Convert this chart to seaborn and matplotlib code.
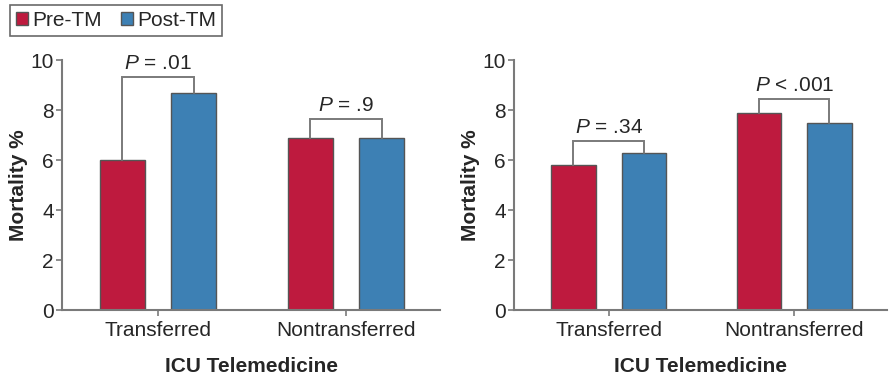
import matplotlib
matplotlib.use("Agg")
import matplotlib.pyplot as plt
import seaborn as sns
import pandas as pd

categories = ["Transferred", "Nontransferred"]
groups = ["Pre-TM", "Post-TM"]
left_pre = [6.0, 6.87]
left_post = [8.7, 6.87]
right_pre = [5.8, 7.9]
right_post = [6.3, 7.5]
left_bracket_top = [9.3, 7.65]
right_bracket_top = [6.75, 8.45]
left_p = ["= .01", "= .9"]
right_p = ["= .34", "< .001"]
yticks = [0, 2, 4, 6, 8, 10]

RED = "#BE1A3E"
BLUE = "#3D80B4"
GREY = "#7a7a7a"
FS = 15

sns.set_style("white")
plt.rcParams["font.family"] = ["Liberation Sans", "DejaVu Sans"]
plt.rcParams["mathtext.fontset"] = "custom"
plt.rcParams["mathtext.it"] = "Liberation Sans:italic"
plt.rcParams["mathtext.rm"] = "Liberation Sans"

fig = plt.figure(figsize=(8.89, 3.75), dpi=100)
ax1 = fig.add_axes([62/889, 1-310/375, (440-62)/889, 250/375])
ax2 = fig.add_axes([514/889, 1-310/375, (887-514)/889, 250/375])

def make_df(pre, post):
    rows = []
    for c, v in zip(categories, pre):
        rows.append({"cat": c, "grp": groups[0], "val": v})
    for c, v in zip(categories, post):
        rows.append({"cat": c, "grp": groups[1], "val": v})
    return pd.DataFrame(rows)

def panel(ax, pre, post, tops, ptexts, legend):
    df = make_df(pre, post)
    sns.barplot(data=df, x="cat", y="val", hue="grp", hue_order=groups,
                palette=[RED, BLUE], width=0.76, gap=0.37, ax=ax,
                edgecolor="#555555", linewidth=1.0, legend=legend,
                saturation=1)
    ax.set_xlim(-0.51, 1.5)
    ax.set_ylim(0, 10)
    ax.set_yticks(yticks)
    ax.set_yticklabels([str(t) for t in yticks], fontsize=FS)
    ax.tick_params(axis="x", labelsize=FS, length=4, width=1.2, color=GREY,
                   bottom=True, pad=4)
    ax.tick_params(axis="y", length=4, width=1.2, color=GREY, left=True, pad=2)
    for s in ["top", "right"]:
        ax.spines[s].set_visible(False)
    for s in ["left", "bottom"]:
        ax.spines[s].set_color(GREY)
        ax.spines[s].set_linewidth(1.5)
    ax.set_xlabel("ICU Telemedicine", fontsize=FS, fontweight="bold", labelpad=12)
    ax.set_ylabel("Mortality %", fontsize=FS, fontweight="bold", labelpad=2)
    c_pre, c_post = ax.containers[0], ax.containers[1]
    for i in range(len(categories)):
        b1 = c_pre[i]
        b2 = c_post[i]
        x1 = b1.get_x() + b1.get_width() / 2
        x2 = b2.get_x() + b2.get_width() / 2
        top = tops[i]
        ax.plot([x1, x1, x2, x2], [b1.get_height(), top, top, b2.get_height()],
                color=GREY, lw=1.4, solid_joinstyle="miter", zorder=3)
        ax.annotate("$P$ " + ptexts[i], xy=((x1 + x2) / 2, top),
                    xytext=(0, 3), textcoords="offset points",
                    ha="center", va="bottom", fontsize=FS)

panel(ax1, left_pre, left_post, left_bracket_top, left_p, True)
panel(ax2, right_pre, right_post, right_bracket_top, right_p, False)

handles, labels = ax1.get_legend_handles_labels()
ax1.get_legend().remove()
leg = fig.legend(handles, labels, loc="upper left", bbox_to_anchor=(10/889, 1-5/375),
                 ncol=2, fontsize=FS, frameon=True, fancybox=False,
                 handlelength=0.6, handleheight=0.6, handletextpad=0.2,
                 columnspacing=0.9, borderpad=0.28, borderaxespad=0)
leg.get_frame().set_edgecolor("#444444")
leg.get_frame().set_linewidth(1.2)

fig.savefig("out.png", dpi=100)
